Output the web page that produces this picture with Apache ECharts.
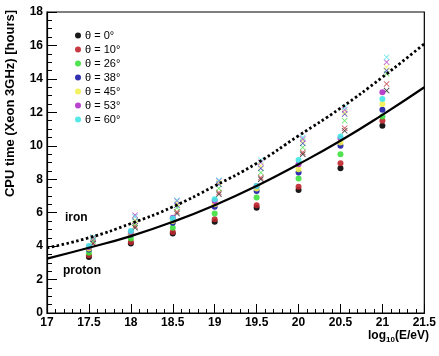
<!DOCTYPE html>
<html>
<head>
<meta charset="utf-8">
<script src="https://cdn.jsdelivr.net/npm/echarts@6/dist/echarts.min.js"></script>
<style>
  html, body { margin: 0; padding: 0; background: #fff; }
  #chart { width: 439px; height: 356px; }
</style>
</head>
<body>
<div id="chart"></div>
<script>
// energies of the simulated showers, log10(E/eV)
const energies = [17.5, 18, 18.5, 19, 19.5, 20, 20.5, 21];
const angles = ['θ = 0°', 'θ = 10°', 'θ = 26°', 'θ = 38°', 'θ = 45°', 'θ = 53°', 'θ = 60°'];
const angleColors = ['#000000', '#c0262c', '#3ee03e', '#1c1ca8', '#f0f050', '#b030c8', '#44e4e4'];

// proton showers (circles), one row per angle
const protonTimes = [
  [3.35, 4.15, 4.75, 5.45, 6.3, 7.35, 8.65, 11.2],
  [3.45, 4.25, 4.85, 5.6, 6.45, 7.55, 8.95, 11.5],
  [3.6, 4.45, 5.1, 5.95, 6.9, 8.05, 9.5, 11.75],
  [3.8, 4.7, 5.4, 6.35, 7.3, 8.4, 10.0, 12.15],
  [3.85, 4.75, 5.5, 6.5, 7.45, 8.6, 10.2, 12.5],
  [3.95, 4.85, 5.7, 6.7, 7.6, 8.9, 10.45, 13.2],
  [4.0, 4.9, 5.65, 6.8, 7.6, 9.15, 10.55, 12.8]
];

// iron showers (crosses), one row per angle
const ironTimes = [
  [4.15, 5.1, 5.95, 7.1, 8.0, 9.5, 10.9, 13.3],
  [4.2, 5.2, 6.05, 7.2, 8.1, 9.6, 11.05, 13.7],
  [4.3, 5.35, 6.3, 7.45, 8.4, 9.9, 11.5, 14.3],
  [4.4, 5.5, 6.45, 7.7, 8.65, 10.15, 11.9, 14.5],
  [4.45, 5.55, 6.55, 7.8, 8.8, 10.3, 12.0, 14.7],
  [4.5, 5.85, 6.7, 7.9, 9.0, 10.4, 12.15, 15.0],
  [4.55, 5.75, 6.75, 7.95, 9.15, 10.5, 12.3, 15.3]
];

// fitted curves
const fitEnergies = [17, 17.5, 18, 18.5, 19, 19.5, 20, 20.5, 21, 21.5];
const protonFit = [3.25, 3.9, 4.6, 5.45, 6.45, 7.6, 8.9, 10.3, 11.85, 13.5];
const ironFit = [3.9, 4.5, 5.35, 6.35, 7.6, 8.95, 10.6, 12.25, 14.1, 16.1];

const crossPath = 'path://M0,1L1,0L5,4L9,0L10,1L6,5L10,9L9,10L5,6L1,10L0,9L4,5Z';
const ironShift = 0.05; // iron points are drawn a bit to the right

const fontFamily = 'Liberation Sans, Arial, sans-serif';

const chart = echarts.init(document.getElementById('chart'));

const series = [];
angles.forEach((name, i) => {
  series.push({
    type: 'scatter',
    name: name,
    data: energies.map((e, j) => [e, protonTimes[i][j]]),
    symbol: 'circle',
    symbolSize: 6,
    itemStyle: { color: angleColors[i], opacity: 0.9 },
    z: 3,
  });
  series.push({
    type: 'scatter',
    name: 'iron ' + name,
    data: energies.map((e, j) => [e + ironShift, ironTimes[i][j]]),
    symbol: crossPath,
    symbolSize: 6,
    itemStyle: { color: angleColors[i], opacity: 0.75 },
    z: 3,
  });
});

series.push({
  type: 'line',
  name: 'proton fit',
  data: fitEnergies.map((e, j) => [e, protonFit[j]]),
  smooth: true,
  showSymbol: false,
  lineStyle: { color: '#000', width: 2.2 },
  z: 4,
});
series.push({
  type: 'line',
  name: 'iron fit',
  data: fitEnergies.map((e, j) => [e, ironFit[j]]),
  smooth: true,
  showSymbol: false,
  lineStyle: { color: '#000', width: 2.8, type: [2.5, 2.5] },
  z: 4,
});

const option = {
  animation: false,
  backgroundColor: '#fff',
  grid: {
    left: 47,
    right: 10,
    top: 12,
    bottom: 43,
    show: true,
    borderColor: '#000',
    borderWidth: 1.2,
    backgroundColor: 'transparent',
  },
  legend: {
    data: angles,
    orient: 'vertical',
    left: 70,
    top: 25,
    icon: 'circle',
    itemWidth: 6,
    itemHeight: 6,
    itemGap: 3,
    textStyle: { fontFamily: fontFamily, fontSize: 11, color: '#000', padding: [0, 0, 0, -1] },
  },
  xAxis: {
    type: 'value',
    min: 17,
    max: 21.5,
    interval: 0.5,
    axisLine: { lineStyle: { color: '#000', width: 1.2 } },
    axisTick: { inside: true, length: 9, lineStyle: { color: '#000' } },
    minorTick: { show: true, splitNumber: 5, length: 4, lineStyle: { color: '#000' } },
    splitLine: { show: false },
    axisLabel: {
      margin: 4,
      color: '#000',
      fontFamily: fontFamily,
      fontWeight: 'bold',
      fontSize: 12,
      formatter: v => String(v),
    },
  },
  yAxis: {
    type: 'value',
    min: 0,
    max: 18,
    interval: 2,
    axisLine: { lineStyle: { color: '#000', width: 1.2 } },
    axisTick: { inside: true, length: 10, lineStyle: { color: '#000' } },
    minorTick: { show: true, splitNumber: 4, length: 5, lineStyle: { color: '#000' } },
    splitLine: { show: false },
    axisLabel: {
      margin: 4,
      color: '#000',
      fontFamily: fontFamily,
      fontWeight: 'bold',
      fontSize: 12,
    },
  },
  graphic: [
    {
      type: 'text',
      left: 4,
      top: 10,
      rotation: Math.PI / 2,
      style: {
        text: 'CPU time (Xeon 3GHz) [hours]',
        font: 'bold 13px ' + fontFamily,
        fill: '#000',
      },
    },
    {
      type: 'text',
      left: 368,
      top: 330,
      style: {
        text: '{b|log}{s|10}{b|(E/eV)}',
        rich: {
          b: { font: 'bold 12px ' + fontFamily, fill: '#000' },
          s: { font: 'bold 8px ' + fontFamily, fill: '#000', padding: [8, 0, 0, 0] },
        },
      },
    },
    {
      type: 'text',
      left: 65,
      top: 212,
      style: { text: 'iron', font: 'bold 12px ' + fontFamily, fill: '#000' },
    },
    {
      type: 'text',
      left: 63,
      top: 265,
      style: { text: 'proton', font: 'bold 12px ' + fontFamily, fill: '#000' },
    },
  ],
  series: series,
};

chart.setOption(option);
</script>
</body>
</html>
